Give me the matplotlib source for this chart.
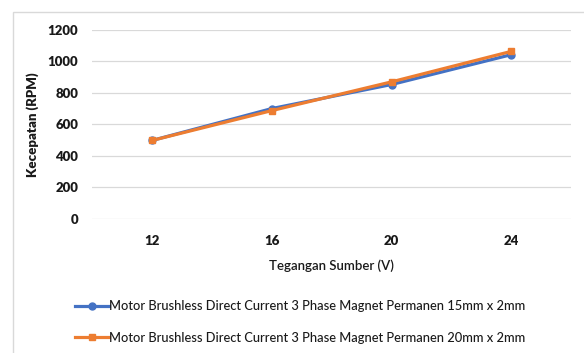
import matplotlib.pyplot as plt
from matplotlib.patches import Rectangle

# tegangan sumber (V) vs kecepatan (RPM)
tegangan = ['12', '16', '20', '24']
rpm_15mm = [497, 700, 853, 1043]
rpm_20mm = [497, 687, 870, 1064]
label_15mm = 'Motor Brushless Direct Current 3 Phase Magnet Permanen 15mm x 2mm'
label_20mm = 'Motor Brushless Direct Current 3 Phase Magnet Permanen 20mm x 2mm'
y_ticks = [0, 200, 400, 600, 800, 1000, 1200]

plt.rcParams['font.family'] = ['Lato', 'DejaVu Sans']

fig = plt.figure(figsize=(5.84, 3.53), dpi=100)
# outer chart border (cut off at right and bottom)
fig.patches.append(Rectangle((13 / 584, -0.1), 1.2, 1 - 12 / 353 + 0.1,
                             transform=fig.transFigure, fill=False,
                             edgecolor='#d9d9d9', linewidth=1))

ax = fig.add_axes([0.158, 0.381, 0.82, 0.534])
x = range(len(tegangan))
ax.plot(x, rpm_15mm, color='#4472C4', linewidth=2.3, marker='o', markersize=5,
        label=label_15mm, zorder=3)
ax.plot(x, rpm_20mm, color='#ED7D31', linewidth=2.3, marker='s', markersize=5,
        label=label_20mm, zorder=4)

ax.set_xlim(-0.5, len(tegangan) - 0.5)
ax.set_ylim(0, 1200)
ax.set_xticks(list(x))
ax.set_xticklabels(tegangan)
ax.set_yticks(y_ticks)
ax.grid(axis='y', color='#d9d9d9', linewidth=0.9)
ax.set_axisbelow(True)
for s in ax.spines.values():
    s.set_visible(False)
ax.tick_params(length=0, labelsize=9.5, colors='#1a1a1a')
ax.tick_params(axis='x', pad=12)
ax.tick_params(axis='y', pad=10)
for t in ax.get_xticklabels() + ax.get_yticklabels():
    t.set_fontweight('heavy')

ax.set_xlabel('Tegangan Sumber (V)', fontsize=9.5, fontweight='semibold',
              color='#1a1a1a', labelpad=9)
ax.set_ylabel('Kecepatan (RPM)', fontsize=9.5, fontweight='heavy',
              color='#1a1a1a', labelpad=6)

fig.legend(loc='upper left', bbox_to_anchor=(70 / 584, 1 - 295 / 353),
           frameon=False, handlelength=2.6, handletextpad=0.05,
           labelspacing=1.5, borderaxespad=0, labelcolor='#1a1a1a',
           prop={'size': 9.3, 'weight': 'medium'})

fig.savefig('out.png', dpi=100)
